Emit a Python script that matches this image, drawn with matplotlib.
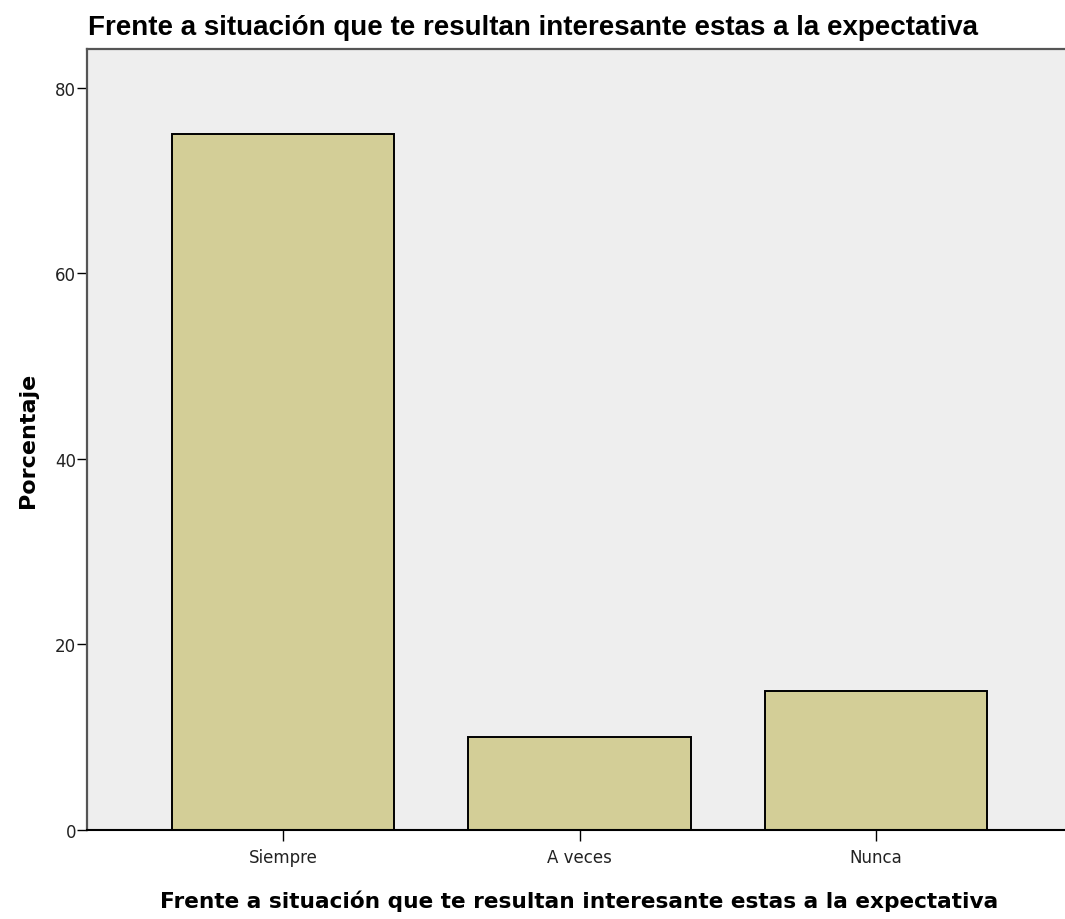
import matplotlib
matplotlib.use("Agg")
import matplotlib.pyplot as plt

# data
categorias = ["Siempre", "A veces", "Nunca"]
porcentaje = [75, 10, 15]
yticks = [0, 20, 40, 60, 80]

titulo = "Frente a situación que te resultan interesante estas a la expectativa"

fig = plt.figure(figsize=(10.65, 9.2), dpi=100)
ax = fig.add_axes([87 / 1065, 1 - 831 / 920, (1072 - 87) / 1065, (831 - 50) / 920])
ax.set_facecolor("#eeeeee")

x = range(len(categorias))
ax.bar(x, porcentaje, width=0.75, color="#d3ce97", edgecolor="black", linewidth=1.4, zorder=2)

ax.set_xlim(-0.662, 2.662)
ax.set_ylim(0, 84.2)
ax.set_xticks(list(x))
ax.set_xticklabels(categorias, fontsize=12, family="DejaVu Sans", color="#222222")
ax.set_yticks(yticks)
ax.set_yticklabels([str(v) for v in yticks], fontsize=12, family="DejaVu Sans", color="#222222")
ax.tick_params(axis="y", length=7, width=1, color="black", pad=1)
ax.tick_params(axis="x", length=8, width=1, color="black", pad=5)

for s in ["left", "top"]:
    ax.spines[s].set_color("#555555")
    ax.spines[s].set_linewidth(1.6)
ax.spines["bottom"].set_color("black")
ax.spines["bottom"].set_linewidth(1.5)
ax.spines["right"].set_visible(False)

ax.set_ylabel("Porcentaje", fontsize=16, fontweight="bold", family="DejaVu Sans", labelpad=12)
ax.set_xlabel(titulo, fontsize=15.6, fontweight="bold", family="DejaVu Sans", labelpad=17)
fig.text(88 / 1065, 1 - 35 / 920, titulo, fontsize=20, fontweight="bold",
         family=["Liberation Sans", "DejaVu Sans"], va="baseline", ha="left")

fig.savefig("out.png", dpi=100)
